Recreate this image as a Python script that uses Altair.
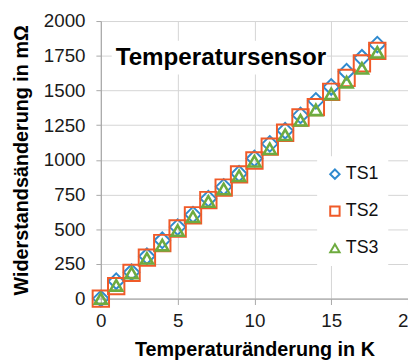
import altair as alt
import pandas as pd

temp_change = list(range(0, 19))
ts1 = [0, 125, 190, 305, 420, 515, 605, 720, 805, 900, 1010, 1115, 1210, 1320, 1425, 1525, 1635, 1735, 1830]
ts2 = [0, 90, 185, 295, 400, 505, 600, 710, 800, 895, 995, 1095, 1195, 1305, 1380, 1490, 1590, 1695, 1785]
ts3 = [0, 95, 185, 290, 385, 490, 590, 700, 790, 885, 990, 1080, 1180, 1285, 1360, 1475, 1560, 1660, 1775]
series_names = ["TS1", "TS2", "TS3"]
series_colors = ["#2F8ACF", "#F05A28", "#6EAB3F"]
series_shapes = ["diamond", "square", "triangle-up"]
series_sizes = [250, 275, 150]
series_strokes = [2, 2, 2.6]
y_ticks = [0, 250, 500, 750, 1000, 1250, 1500, 1750, 2000]
x_ticks = [0, 5, 10, 15, 20]
title_text = "Temperatursensor"

rows = []
for name, vals in zip(series_names, [ts1, ts2, ts3]):
    for x, v in zip(temp_change, vals):
        rows.append({"dT": x, "dR": v, "Serie": name})
df = pd.DataFrame(rows)

base = alt.Chart(df).encode(
    x=alt.X("dT:Q", scale=alt.Scale(domain=[0, 20], nice=False),
            axis=alt.Axis(values=x_ticks, title="Temperaturänderung in K", format="d")),
    y=alt.Y("dR:Q", scale=alt.Scale(domain=[0, 2000], nice=False),
            axis=alt.Axis(values=y_ticks, title="Widerstandsänderung in mΩ", format="d")),
    color=alt.Color("Serie:N", scale=alt.Scale(domain=series_names, range=series_colors),
                    legend=alt.Legend(title=None, orient="none", legendX=219, legendY=137,
                                      fillColor="white", padding=9, rowPadding=19.5,
                                      symbolStrokeWidth=2, symbolSize=90, symbolFillColor="transparent",
                                      labelFontSize=18, labelFont="Liberation Sans", labelColor="#111111",
                                      labelOffset=2)),
    shape=alt.Shape("Serie:N", scale=alt.Scale(domain=series_names, range=series_shapes)),
)

layers = []
for name, size, sw in zip(series_names, series_sizes, series_strokes):
    layers.append(
        base.transform_filter(alt.datum.Serie == name)
        .mark_point(filled=False, strokeWidth=sw, opacity=1, size=size)
    )

title_bg = alt.Chart(pd.DataFrame({"t": [title_text]})).mark_rect(color="white").encode(
    x=alt.value(11), x2=alt.value(229), y=alt.value(20), y2=alt.value(54)
)
title_mark = alt.Chart(pd.DataFrame({"t": [title_text]})).mark_text(
    align="left", baseline="alphabetic", font="Liberation Sans", fontWeight="bold",
    fontSize=24.5, color="#000000"
).encode(x=alt.value(15), y=alt.value(44.5), text="t:N")

chart = alt.layer(*layers, title_bg, title_mark).properties(
    width=311, height=281,
    autosize=alt.AutoSizeParams(type="none"),
    padding={"left": 94, "top": 11, "right": 0, "bottom": 62},
).configure_axis(
    labelFont="Liberation Sans", labelFontSize=19, labelColor="#1a1a1a",
    titleFont="Liberation Sans", titleFontSize=20, titleFontWeight="bold", titleColor="#000000",
    gridColor="#d4d4d4", gridWidth=1, domainColor="#a8a8a8", tickColor="#a8a8a8",
    domainWidth=1.2, labelFlush=False, labelOverlap=False,
).configure_axisY(
    tickSize=5, labelPadding=11, titlePadding=12,
).configure_axisX(
    tickSize=6, labelPadding=7, titlePadding=10,
).configure_view(stroke=None)

chart.save("out.html", embed_options={"renderer": "svg", "actions": False})
